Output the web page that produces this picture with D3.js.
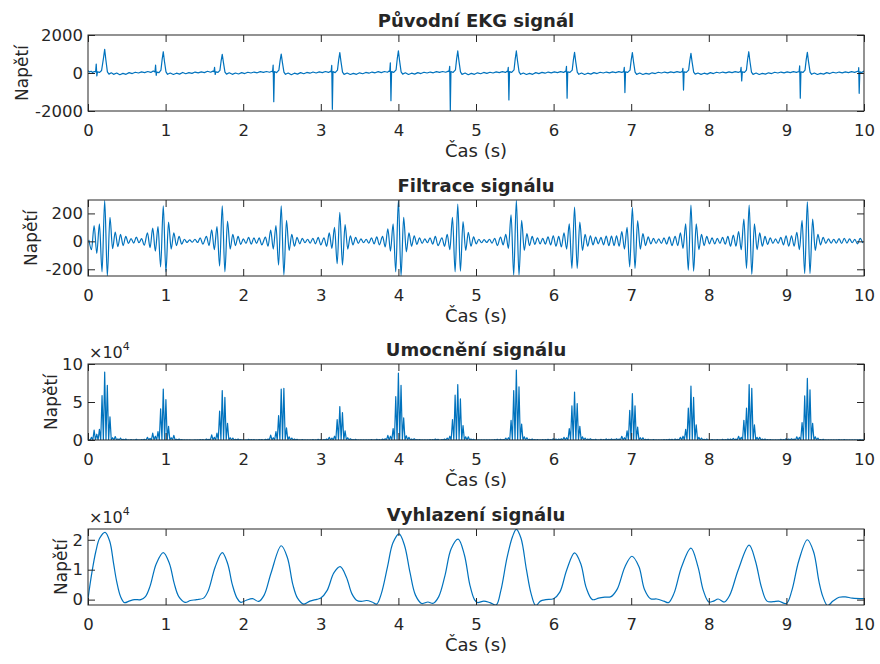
<!DOCTYPE html>
<html lang="cs">
<head>
<meta charset="utf-8">
<title>EKG signál</title>
<script src="https://cdn.jsdelivr.net/npm/d3@7"></script>
<style>
  body { margin: 0; background: #fff; }
  text { font-family: "DejaVu Sans", sans-serif; fill: #262626; }
</style>
</head>
<body>
<script>

// x axis ticks (time in s)
var xTicks = [0, 1, 2, 3, 4, 5, 6, 7, 8, 9, 10];

var titles = ["Původní EKG signál", "Filtrace signálu", "Umocnění signálu", "Vyhlazení signálu"];
var xLabel = "Čas (s)";
var yLabel = "Napětí";

var yTicksRaw = [-2000, 0, 2000];
var yTicksFilt = [-200, 0, 200];
var yTicksSq = [0, 5, 10];      // x 10^4
var yTicksSmooth = [0, 1, 2];   // x 10^4

// raw EKG, [time, value]
var rawPts = [
  [0,120],[0.02,50],[0.04,90],[0.06,30],[0.08,80],
  [0.098,60],[0.106,470],[0.114,-150],[0.122,60],[0.15,30],[0.175,130],[0.2,800],[0.215,1250],[0.23,700],[0.25,60],[0.27,-60],
  [0.3,10],[0.33,-70],[0.37,0],[0.41,-90],[0.45,-20],[0.49,-70],[0.53,20],[0.57,-30],[0.61,40],[0.65,0],[0.69,60],[0.73,20],[0.77,80],[0.81,30],[0.84,110],
  [0.863,60],[0.871,420],[0.879,-120],[0.887,50],[0.915,20],[0.94,150],[0.955,700],[0.97,1120],[0.985,620],[1.005,60],[1.025,-70],
  [1.06,0],[1.1,-80],[1.14,-10],[1.18,-60],[1.22,30],[1.26,-40],[1.3,20],[1.34,-20],[1.38,50],[1.42,10],[1.46,60],[1.5,20],[1.54,90],[1.58,40],[1.61,100],
  [1.623,70],[1.631,300],[1.639,-80],[1.647,60],[1.675,30],[1.7,140],[1.715,620],[1.73,980],[1.745,560],[1.765,50],[1.785,-60],
  [1.82,10],[1.86,-70],[1.9,0],[1.94,-50],[1.98,20],[2.02,-30],[2.06,40],[2.1,0],[2.14,50],[2.18,10],[2.22,70],[2.26,30],[2.3,80],[2.34,40],[2.37,90],
  [2.378,60],[2.386,420],[2.394,-1510],[2.402,80],[2.43,20],[2.46,150],[2.475,640],[2.49,1000],[2.505,560],[2.525,50],[2.545,-70],
  [2.58,0],[2.62,-90],[2.66,-10],[2.7,-60],[2.74,20],[2.78,-40],[2.82,30],[2.86,-10],[2.9,50],[2.94,0],[2.98,60],[3.02,20],[3.06,80],[3.1,30],[3.125,90],
  [3.133,60],[3.141,400],[3.149,-1910],[3.157,70],[3.185,20],[3.215,150],[3.23,680],[3.245,1070],[3.26,600],[3.28,50],[3.3,-70],
  [3.34,0],[3.38,-80],[3.42,-20],[3.46,-70],[3.5,10],[3.54,-40],[3.58,30],[3.62,-10],[3.66,50],[3.7,10],[3.74,70],[3.78,20],[3.82,80],[3.86,40],[3.88,100],
  [3.888,80],[3.896,540],[3.904,-1460],[3.912,70],[3.94,30],[3.97,160],[3.985,740],[4.0,1170],[4.015,650],[4.035,60],[4.055,-60],
  [4.09,10],[4.13,-80],[4.17,-10],[4.21,-60],[4.25,20],[4.29,-30],[4.33,40],[4.37,0],[4.41,50],[4.45,10],[4.49,70],[4.53,30],[4.57,80],[4.61,40],[4.645,100],
  [4.653,70],[4.661,350],[4.669,-2000],[4.677,80],[4.705,30],[4.735,160],[4.75,730],[4.765,1160],[4.78,640],[4.8,60],[4.82,-70],
  [4.86,0],[4.9,-90],[4.94,-20],[4.98,-70],[5.02,10],[5.06,-40],[5.1,30],[5.14,-20],[5.18,40],[5.22,0],[5.26,60],[5.3,20],[5.34,70],[5.38,30],[5.4,90],
  [5.408,70],[5.416,300],[5.424,-1420],[5.432,70],[5.46,30],[5.49,160],[5.505,730],[5.52,1160],[5.535,640],[5.555,60],[5.575,-70],
  [5.61,0],[5.65,-80],[5.69,-20],[5.73,-70],[5.77,20],[5.81,-30],[5.85,30],[5.89,-10],[5.93,50],[5.97,10],[6.01,60],[6.05,20],[6.09,70],[6.13,30],[6.15,90],
  [6.158,70],[6.166,350],[6.174,-1330],[6.182,60],[6.21,30],[6.24,150],[6.255,690],[6.27,1090],[6.285,600],[6.305,50],[6.325,-70],
  [6.36,0],[6.4,-80],[6.44,-10],[6.48,-60],[6.52,20],[6.56,-30],[6.6,40],[6.64,0],[6.68,50],[6.72,10],[6.76,60],[6.8,20],[6.84,70],[6.88,30],[6.9,80],
  [6.903,60],[6.911,300],[6.919,-1030],[6.927,60],[6.955,30],[6.985,150],[7.0,680],[7.015,1070],[7.03,590],[7.05,50],[7.07,-70],
  [7.11,0],[7.15,-80],[7.19,-20],[7.23,-60],[7.27,10],[7.31,-30],[7.35,40],[7.39,0],[7.43,50],[7.47,10],[7.51,60],[7.55,20],[7.59,70],[7.63,30],[7.655,80],
  [7.658,60],[7.666,250],[7.674,-900],[7.682,60],[7.71,30],[7.74,150],[7.755,650],[7.77,1030],[7.785,570],[7.805,50],[7.825,-60],
  [7.86,0],[7.9,-70],[7.94,-10],[7.98,-60],[8.02,20],[8.06,-30],[8.1,40],[8.14,0],[8.18,50],[8.22,10],[8.26,60],[8.3,20],[8.34,70],[8.38,30],[8.405,80],
  [8.408,60],[8.416,300],[8.424,-420],[8.432,60],[8.46,30],[8.485,150],[8.5,710],[8.515,1120],[8.53,620],[8.55,50],[8.57,-70],
  [8.61,0],[8.65,-80],[8.69,-20],[8.73,-60],[8.77,10],[8.81,-30],[8.85,40],[8.89,0],[8.93,50],[8.97,10],[9.01,60],[9.05,20],[9.09,70],[9.13,30],[9.16,80],
  [9.163,60],[9.171,370],[9.179,-1330],[9.187,60],[9.215,30],[9.24,150],[9.255,690],[9.27,1090],[9.285,600],[9.305,50],[9.325,-70],
  [9.36,0],[9.4,-80],[9.44,-20],[9.48,-60],[9.52,20],[9.56,-30],[9.6,40],[9.64,0],[9.68,50],[9.72,10],[9.76,60],[9.8,20],[9.84,70],[9.88,30],[9.92,90],
  [9.928,80],[9.932,280],[9.938,-1070],[9.946,60],[9.97,20],[10,100]
];

// QRS centres (s) and the filter's half period (s): filtered and squared
// signals are stored as extrema, one list per beat, starting 6 half periods
// before the centre
var beatTimes = [0.215, 0.97, 1.73, 2.49, 3.245, 4.0, 4.765, 5.52, 6.27, 7.015, 7.77, 8.52, 9.27];
var halfPeriod = 0.034;

var filtSegs = [
  [10, -60, 113, -87, 125, -218, 293, -246, 172, -52, 66, -38, 50, -30, 35, -15, 20, -12, 30, -10, 20, -28],
  [60, -45, 94, -70, 106, -182, 255, -218, 137, -55, 60, -30, 35, -20, 15, -8, 10, -6, 15, -8, 25, -20],
  [35, -30, 82, -60, 106, -177, 255, -218, 145, -55, 50, -30, 35, -22, 18, -15, 28, -20, 25, -15, 25, -25],
  [30, -35, 80, -55, 113, -170, 255, -240, 150, -65, 50, -35, 28, -18, 22, -10, 15, -12, 22, -18, 28, -25],
  [25, -35, 60, -50, 100, -160, 208, -170, 120, -55, 40, -25, 28, -15, 18, -10, 15, -12, 25, -18, 32, -25],
  [35, -40, 90, -70, 125, -218, 293, -246, 172, -75, 60, -35, 40, -22, 25, -15, 18, -10, 25, -20, 35, -30],
  [25, -35, 50, -60, 172, -218, 267, -213, 142, -65, 65, -35, 32, -18, 15, -10, 12, -8, 15, -12, 22, -30],
  [30, -25, 50, -50, 189, -241, 293, -241, 150, -65, 55, -30, 35, -22, 25, -18, 22, -20, 32, -25, 40, -35],
  [35, -40, 60, -55, 125, -194, 245, -194, 137, -65, 50, -35, 40, -25, 30, -18, 28, -25, 38, -30, 38, -30],
  [40, -35, 70, -55, 101, -182, 243, -194, 149, -55, 55, -30, 32, -18, 22, -15, 18, -15, 25, -20, 32, -30],
  [35, -30, 60, -50, 125, -206, 260, -213, 125, -60, 50, -30, 35, -18, 25, -18, 22, -15, 28, -20, 35, -35],
  [45, -35, 70, -60, 160, -194, 260, -236, 125, -60, 60, -35, 35, -22, 25, -15, 18, -15, 28, -25, 40, -35],
  [40, -35, 65, -60, 150, -230, 283, -230, 160, -65, 50, -25, 28, -15, 18, -12, 15, -12, 20, -15, 22, -12, 18, -10, 14, -18, 22, -12]
];

// squared signal hump heights, x 10^4
var sqSegs = [
  [0.01, 0.36, 1.3, 0.76, 1.4, 5.85, 8.95, 7.2, 3.05, 0.3, 0.45, 0.15, 0.25, 0.09, 0.12, 0.02, 0.04, 0.01, 0.09, 0.01, 0.04, 0.08],
  [0.36, 0.2, 0.9, 0.5, 1.1, 4.1, 6.7, 5.3, 1.8, 0.3, 0.6, 0.09, 0.12, 0.04, 0.02, 0.01, 0.01, 0.0, 0.02, 0.01, 0.06, 0.04],
  [0.12, 0.09, 0.67, 0.36, 0.9, 3.8, 6.5, 5.6, 2.2, 0.3, 0.25, 0.09, 0.12, 0.05, 0.03, 0.02, 0.08, 0.04, 0.06, 0.02, 0.06, 0.06],
  [0.09, 0.12, 0.64, 0.3, 1.1, 3.2, 6.7, 6.8, 1.6, 0.42, 0.25, 0.12, 0.08, 0.03, 0.05, 0.01, 0.02, 0.01, 0.05, 0.03, 0.08, 0.06],
  [0.06, 0.12, 0.36, 0.25, 0.5, 2.7, 4.4, 3.6, 1.2, 0.3, 0.16, 0.06, 0.08, 0.02, 0.03, 0.01, 0.02, 0.01, 0.06, 0.03, 0.1, 0.06],
  [0.12, 0.16, 0.6, 0.5, 1.5, 5.7, 8.8, 7.2, 2.9, 0.56, 0.36, 0.12, 0.16, 0.05, 0.06, 0.02, 0.03, 0.01, 0.06, 0.04, 0.12, 0.09],
  [0.06, 0.12, 0.25, 0.5, 2.7, 5.9, 7.3, 5.4, 1.9, 0.42, 0.42, 0.12, 0.1, 0.03, 0.02, 0.01, 0.01, 0.01, 0.02, 0.01, 0.05, 0.09],
  [0.09, 0.06, 0.25, 0.3, 2.6, 6.5, 9.2, 7.0, 2.1, 0.42, 0.3, 0.09, 0.12, 0.05, 0.06, 0.03, 0.05, 0.04, 0.1, 0.06, 0.16, 0.12],
  [0.12, 0.16, 0.36, 0.3, 1.5, 4.5, 6.3, 4.8, 1.8, 0.42, 0.25, 0.12, 0.16, 0.06, 0.09, 0.03, 0.08, 0.06, 0.14, 0.09, 0.14, 0.09],
  [0.16, 0.12, 0.49, 0.3, 1.2, 3.9, 6.1, 4.5, 1.7, 0.3, 0.3, 0.09, 0.1, 0.03, 0.05, 0.02, 0.03, 0.02, 0.06, 0.04, 0.1, 0.09],
  [0.12, 0.09, 0.36, 0.5, 1.4, 4.2, 7.1, 5.6, 2.0, 0.36, 0.25, 0.09, 0.12, 0.03, 0.06, 0.03, 0.05, 0.02, 0.08, 0.04, 0.12, 0.12],
  [0.2, 0.12, 0.49, 0.36, 2.6, 4.2, 7.3, 6.8, 2.0, 0.36, 0.36, 0.12, 0.12, 0.05, 0.06, 0.02, 0.03, 0.02, 0.08, 0.06, 0.16, 0.12],
  [0.16, 0.12, 0.42, 0.36, 2.3, 5.8, 8.1, 6.6, 2.2, 0.42, 0.25, 0.06, 0.08, 0.02, 0.03, 0.01, 0.02, 0.01, 0.04, 0.02, 0.05, 0.01, 0.03, 0.01, 0.02, 0.03, 0.05, 0.01]
];

// smoothed signal, [time, value x 10^4]
var smoothPts = [
  [0,0.03],[0.05,0.9],[0.1,1.6],[0.15,2.05],[0.22,2.25],[0.28,1.95],[0.33,1.2],[0.37,0.6],[0.42,0.1],[0.47,-0.1],[0.53,-0.05],[0.6,0.0],[0.68,0.0],[0.74,0.1],
  [0.8,0.45],[0.88,1.2],[0.97,1.57],[1.05,1.2],[1.11,0.55],[1.17,0.1],[1.25,-0.09],[1.32,-0.03],[1.4,0.0],[1.49,0.05],
  [1.55,0.3],[1.64,1.1],[1.73,1.57],[1.8,1.2],[1.86,0.5],[1.92,0.05],[1.97,-0.09],[2.04,-0.02],[2.12,0.03],[2.2,-0.06],
  [2.27,0.15],[2.36,0.9],[2.49,1.8],[2.57,1.4],[2.64,0.5],[2.7,0.05],[2.78,-0.15],[2.86,-0.05],[2.95,0.01],[3.0,0.05],
  [3.08,0.3],[3.17,0.9],[3.25,1.1],[3.33,0.75],[3.4,0.2],[3.46,-0.02],[3.52,-0.06],[3.59,-0.03],[3.66,-0.08],[3.72,-0.15],
  [3.78,0.2],[3.86,1.1],[3.93,1.9],[4.01,2.2],[4.08,1.8],[4.15,0.9],[4.22,0.15],[4.3,-0.13],[4.38,-0.08],[4.45,-0.12],
  [4.52,0.1],[4.6,0.8],[4.68,1.7],[4.77,2.02],[4.85,1.5],[4.92,0.5],[4.98,0.0],[5.02,-0.1],[5.1,-0.05],[5.18,-0.1],[5.26,-0.18],
  [5.32,0.3],[5.4,1.4],[5.47,2.1],[5.52,2.35],[5.58,2.05],[5.65,1.0],[5.71,0.2],[5.77,-0.2],[5.83,-0.05],[5.9,0.0],[6.0,0.03],
  [6.08,0.25],[6.17,1.0],[6.27,1.56],[6.35,1.2],[6.42,0.4],[6.5,0.0],[6.58,0.05],[6.66,0.08],[6.74,0.1],
  [6.82,0.35],[6.92,1.1],[7.01,1.45],[7.1,1.1],[7.17,0.35],[7.25,0.03],[7.33,0.02],[7.42,-0.05],[7.48,-0.1],
  [7.55,0.2],[7.65,1.1],[7.77,1.72],[7.86,1.1],[7.93,0.3],[8.0,-0.08],[8.06,-0.05],[8.12,0.02],[8.2,-0.08],
  [8.27,0.15],[8.38,1.0],[8.52,1.82],[8.6,1.3],[8.68,0.4],[8.75,-0.05],[8.83,-0.07],[8.9,-0.05],[9.0,-0.13],
  [9.07,0.3],[9.16,1.3],[9.27,2.0],[9.35,1.6],[9.42,0.6],[9.47,0.1],[9.53,-0.2],[9.6,-0.05],[9.68,0.08],[9.76,0.09],[9.85,0.05],[10,0.03]
];

//Layout
var w = 880;
var h = 664;
var left = 88;
var plotW = 776;
var plotH = 76;
var tops = [35, 200, 364, 529];
var yLabelX = [28, 37, 57, 67];
var blue = "#0072BD";

// filtered signal: extrema along each beat
function segPoints(segs) {
	var pts = [];
	segs.forEach(function(vals, i) {
		vals.forEach(function(v, k) {
			pts.push([beatTimes[i] + (k - 6) * halfPeriod, v]);
		});
	});
	return pts;
}

// squared signal: each extremum is a hump that starts and ends on zero
function humpPoints(segs) {
	var pts = [];
	segs.forEach(function(vals, i) {
		vals.forEach(function(v, k) {
			var t = beatTimes[i] + (k - 6) * halfPeriod;
			pts.push([t - halfPeriod / 2, 0]);
			pts.push([t, v]);
			if (k == vals.length - 1) pts.push([t + halfPeriod / 2, 0]);
		});
	});
	return pts;
}

var panels = [
	{ title: titles[0], data: rawPts, domain: [-2000, 2000], ticks: yTicksRaw, curve: d3.curveLinear, exp: false },
	{ title: titles[1], data: segPoints(filtSegs), domain: [-248, 296], ticks: yTicksFilt, curve: d3.curveMonotoneX, exp: false },
	{ title: titles[2], data: humpPoints(sqSegs), domain: [0, 10], ticks: yTicksSq, curve: d3.curveLinear, exp: true },
	{ title: titles[3], data: smoothPts, domain: [-0.18, 2.36], ticks: yTicksSmooth, curve: d3.curveCatmullRom, exp: true }
];

var svg = d3.select("body")
	.append("svg")
	.attr("width", w)
	.attr("height", h);

var x = d3.scaleLinear().domain([0, 10]).range([left, left + plotW]);

panels.forEach(function(p, i) {
	var top = tops[i];
	var y = d3.scaleLinear().domain(p.domain).range([top + plotH, top]);
	var g = svg.append("g");

	g.append("clipPath")
	 .attr("id", "clip" + i)
	 .append("rect")
	 .attr("x", left)
	 .attr("y", top)
	 .attr("width", plotW)
	 .attr("height", plotH);

	var line = d3.line()
		.x(function(d) { return x(d[0]); })
		.y(function(d) { return y(d[1]); })
		.curve(p.curve);

	g.append("path")
	 .datum(p.data)
	 .attr("clip-path", "url(#clip" + i + ")")
	 .attr("fill", "none")
	 .attr("stroke", blue)
	 .attr("stroke-width", 1.2)
	 .attr("stroke-linejoin", "round")
	 .attr("d", line);

	// axes, ticks pointing inwards on all four sides
	g.append("g")
	 .attr("transform", "translate(0," + (top + plotH) + ")")
	 .call(d3.axisBottom(x).tickValues(xTicks).tickSizeInner(-7).tickSizeOuter(0).tickPadding(13).tickFormat(d3.format("d")));
	g.append("g")
	 .attr("transform", "translate(0," + top + ")")
	 .call(d3.axisTop(x).tickValues(xTicks).tickSizeInner(-7).tickSizeOuter(0).tickFormat(""));
	g.append("g")
	 .attr("transform", "translate(" + left + ",0)")
	 .call(d3.axisLeft(y).tickValues(p.ticks).tickSizeInner(-7).tickSizeOuter(0).tickPadding(5).tickFormat(d3.format("d")));
	g.append("g")
	 .attr("transform", "translate(" + (left + plotW) + ",0)")
	 .call(d3.axisRight(y).tickValues(p.ticks).tickSizeInner(-7).tickSizeOuter(0).tickFormat(""));

	g.selectAll(".domain").remove();
	g.selectAll(".tick line").attr("stroke", "#262626");
	g.selectAll(".tick text")
	 .attr("font-family", "DejaVu Sans")
	 .attr("font-size", "16.5px")
	 .attr("fill", "#262626")
	 .text(function() { return d3.select(this).text().replace("−", "-"); });

	g.append("rect")
	 .attr("x", left)
	 .attr("y", top)
	 .attr("width", plotW)
	 .attr("height", plotH)
	 .attr("fill", "none")
	 .attr("stroke", "#262626")
	 .attr("stroke-width", 1);

	g.append("text")
	 .attr("x", left + plotW / 2)
	 .attr("y", top - 8)
	 .attr("text-anchor", "middle")
	 .attr("font-size", "18px")
	 .attr("font-weight", "bold")
	 .attr("fill", "#000")
	 .text(p.title);

	g.append("text")
	 .attr("x", left + plotW / 2)
	 .attr("y", top + plotH + 46)
	 .attr("text-anchor", "middle")
	 .attr("font-size", "18px")
	 .text(xLabel);

	g.append("text")
	 .attr("transform", "translate(" + yLabelX[i] + "," + (top + plotH / 2) + ") rotate(-90)")
	 .attr("text-anchor", "middle")
	 .attr("font-size", "17px")
	 .text(yLabel);

	if (p.exp) {
		var e = g.append("text")
		 .attr("x", left + 1)
		 .attr("y", top - 6)
		 .attr("font-size", "16px");
		e.append("tspan").text("×10");
		e.append("tspan").attr("dy", -8).attr("font-size", "11px").text("4");
	}
});

</script>
</body>
</html>
